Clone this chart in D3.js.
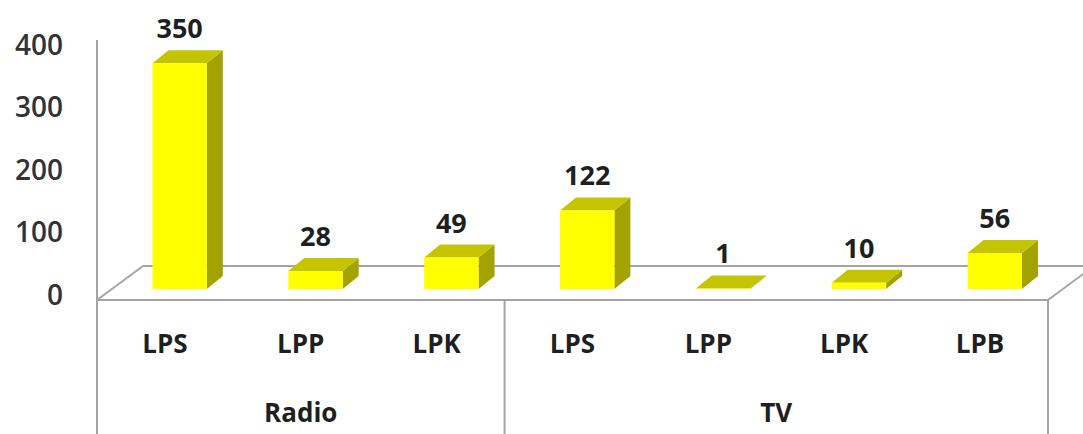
<!DOCTYPE html>
<html>
<head>
<meta charset="utf-8">
<script src="https://cdn.jsdelivr.net/npm/d3@7"></script>
<style>
  body { margin: 0; background: #fff; }
  text { font-family: "Open Sans", sans-serif; fill: #1f1f1f; }
</style>
</head>
<body>
<div id="chart"></div>
<script>
// data
var groups = ["Radio", "TV"];
var categories = ["LPS", "LPP", "LPK", "LPS", "LPP", "LPK", "LPB"];
var groupOf = ["Radio", "Radio", "Radio", "TV", "TV", "TV", "TV"];
var values = [350, 28, 49, 122, 1, 10, 56];
var yTicks = [0, 100, 200, 300, 400];

var width = 1083, height = 434;
var left = 97, right = 1048, floorFront = 300;
var depth = {dx: 46, dy: -34};      // floor depth
var barDepth = {dx: 16, dy: -13};   // depth of each column
var barPos = 0.32;                  // where bars stand on the floor

var svg = d3.select("#chart")
    .append("svg")
    .attr("width", width)
    .attr("height", height);

svg.append("rect").attr("width", width).attr("height", height).attr("fill", "#fff");

var idx = d3.range(categories.length);
var x = d3.scaleBand().domain(idx).range([left, right]);

var baseY = floorFront + depth.dy * barPos;
var shiftX = depth.dx * barPos;
var y = d3.scaleLinear().domain([0, 400]).range([baseY, baseY - 258]);
var yLabel = d3.scaleLinear().domain([0, 400]).range([295, 45]);

var lineColor = "#a4a4a8";

// floor + wall
var floor = svg.append("g").attr("stroke", lineColor).attr("stroke-width", 2).attr("fill", "none");
floor.append("line").attr("x1", left).attr("y1", 40).attr("x2", left).attr("y2", height);
floor.append("line").attr("x1", left).attr("y1", floorFront).attr("x2", right).attr("y2", floorFront);
floor.append("line").attr("x1", left).attr("y1", floorFront)
    .attr("x2", left + depth.dx).attr("y2", floorFront + depth.dy);
floor.append("line").attr("x1", left + depth.dx).attr("y1", floorFront + depth.dy)
    .attr("x2", right + depth.dx).attr("y2", floorFront + depth.dy);
floor.append("line").attr("x1", right).attr("y1", floorFront)
    .attr("x2", right + depth.dx).attr("y2", floorFront + depth.dy);

// group separators in the label area
var groupSpans = groups.map(function (g) {
    var members = idx.filter(function (i) { return groupOf[i] === g; });
    return {name: g, x0: x(members[0]), x1: x(members[members.length - 1]) + x.bandwidth()};
});
floor.selectAll(".sep")
    .data(groupSpans)
    .enter()
    .append("line")
    .attr("x1", function (d) { return d.x1; })
    .attr("x2", function (d) { return d.x1; })
    .attr("y1", floorFront)
    .attr("y2", height);

// columns
var bw = x.bandwidth() * 0.4;
function bx(i) { return x(i) + (x.bandwidth() - bw) / 2 + shiftX; }

var bars = svg.selectAll(".bar")
    .data(idx)
    .enter()
    .append("g")
    .attr("class", "bar");

bars.append("path")
    .attr("fill", "#a3a300")
    .attr("d", function (i) {
        var x1 = bx(i) + bw, t = y(values[i]);
        return "M" + x1 + "," + baseY + "L" + x1 + "," + t +
            "L" + (x1 + barDepth.dx) + "," + (t + barDepth.dy) +
            "L" + (x1 + barDepth.dx) + "," + (baseY + barDepth.dy) + "Z";
    });
bars.append("path")
    .attr("fill", "#c4c400")
    .attr("d", function (i) {
        var x0 = bx(i), t = y(values[i]);
        return "M" + x0 + "," + t + "L" + (x0 + bw) + "," + t +
            "L" + (x0 + bw + barDepth.dx) + "," + (t + barDepth.dy) +
            "L" + (x0 + barDepth.dx) + "," + (t + barDepth.dy) + "Z";
    });
bars.append("rect")
    .attr("fill", "#ffff00")
    .attr("x", function (i) { return bx(i); })
    .attr("y", function (i) { return y(values[i]); })
    .attr("width", bw)
    .attr("height", function (i) { return baseY - y(values[i]); });

// value labels
svg.selectAll(".value")
    .data(idx)
    .enter()
    .append("text")
    .attr("class", "value")
    .attr("x", function (i) { return bx(i) + bw / 2; })
    .attr("y", function (i) { return y(values[i]) + barDepth.dy - 12; })
    .attr("text-anchor", "middle")
    .style("font-size", "27px")
    .style("font-weight", "bold")
    .text(function (i) { return values[i]; });

// y axis labels
svg.selectAll(".ytick")
    .data(yTicks)
    .enter()
    .append("text")
    .attr("class", "ytick")
    .attr("x", 63)
    .attr("y", function (d) { return yLabel(d); })
    .attr("dy", "0.35em")
    .attr("text-anchor", "end")
    .style("font-size", "28px")
    .style("font-weight", "600")
    .style("fill", "#333")
    .text(function (d) { return d; });

// category labels
svg.selectAll(".cat")
    .data(idx)
    .enter()
    .append("text")
    .attr("class", "cat")
    .attr("x", function (i) { return x(i) + x.bandwidth() / 2; })
    .attr("y", 344)
    .attr("dy", "0.35em")
    .attr("text-anchor", "middle")
    .style("font-size", "26px")
    .style("font-weight", "bold")
    .text(function (i) { return categories[i]; });

svg.selectAll(".grp")
    .data(groupSpans)
    .enter()
    .append("text")
    .attr("class", "grp")
    .attr("x", function (d) { return (d.x0 + d.x1) / 2; })
    .attr("y", 413)
    .attr("dy", "0.35em")
    .attr("text-anchor", "middle")
    .style("font-size", "26px")
    .style("font-weight", "bold")
    .text(function (d) { return d.name; });
</script>
</body>
</html>
